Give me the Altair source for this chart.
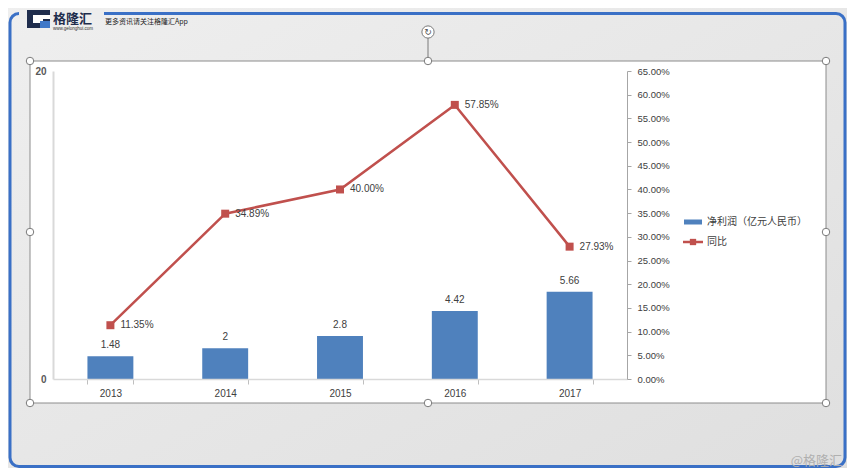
import altair as alt
import pandas as pd

# ---------------- data ----------------
years = ["2013", "2014", "2015", "2016", "2017"]
profit = [1.48, 2, 2.8, 4.42, 5.66]            # 净利润（亿元人民币）
yoy = [0.1135, 0.3489, 0.40, 0.5785, 0.2793]    # 同比
series_names = ["净利润（亿元人民币）", "同比"]
left_ticks = [0, 20]
right_ticks = [0.0, 0.05, 0.10, 0.15, 0.20, 0.25, 0.30, 0.35, 0.40, 0.45, 0.50, 0.55, 0.60, 0.65]

FONT = "Liberation Sans"
CJK = "Noto Sans CJK SC"
BLUE = "#4f81bd"
RED = "#c0504d"
TXT = "#404040"

df = pd.DataFrame({"year": years, "profit": profit, "yoy": yoy})
one = pd.DataFrame({"k": [0]})

# ---------------- axes / scales ----------------
x_axis = alt.Axis(title=None, labelAngle=0, domainColor="#d9d9d9", domainWidth=1.5,
                  tickBand="extent", tickSize=5, tickColor="#bfbfbf", labelColor=TXT,
                  labelFont=FONT, labelFontSize=10, labelPadding=4, grid=False, zindex=1)
x_enc = alt.X("year:N", sort=years, axis=x_axis,
              scale=alt.Scale(paddingInner=0.6, paddingOuter=0.3))

left_scale = alt.Scale(domain=[0, 20], nice=False)
left_axis = alt.Axis(title=None, orient="left", values=left_ticks, ticks=False,
                     domainColor="#d9d9d9", domainWidth=2, labelColor="#595959",
                     labelFont=FONT, labelFontSize=10, labelFontWeight="bold",
                     labelPadding=7, grid=False, zindex=1)

right_scale = alt.Scale(domain=[0, 0.65], nice=False)
right_axis = alt.Axis(title=None, orient="right", values=right_ticks, format=".2%",
                      domainColor="#a6a6a6", tickColor="#a6a6a6", tickSize=4,
                      labelPadding=6, labelColor=TXT, labelFont=FONT, labelFontSize=9.5,
                      grid=False, zindex=1)

# ---------------- helpers for decoration ----------------
def rect(x, x2, y, y2, **kw):
    return alt.Chart(one).mark_rect(**kw).encode(
        x=alt.value(x), x2=alt.value(x2), y=alt.value(y), y2=alt.value(y2))

def rule(x, x2, y, y2, **kw):
    return alt.Chart(one).mark_rule(**kw).encode(
        x=alt.value(x), x2=alt.value(x2), y=alt.value(y), y2=alt.value(y2))

def handle(x, y, size=56):
    return alt.Chart(one).mark_point(shape="circle", filled=True, fill="white",
                                     stroke="#7a7a7a", strokeWidth=1, size=size,
                                     opacity=1).encode(x=alt.value(x), y=alt.value(y))

def label(txt, x, y, **kw):
    return alt.Chart(one).mark_text(text=txt, **kw).encode(x=alt.value(x), y=alt.value(y))

bg = rect(-60, 800, -70, 400, fill={
    "gradient": "linear", "x1": 0, "y1": 0, "x2": 1, "y2": 1,
    "stops": [{"offset": 0, "color": "#efefef"}, {"offset": 1, "color": "#dfdfdf"}]})

frame = rect(-43, 792, -57.5, 395.5, fill=None, filled=False, stroke="#3a70c6",
             strokeWidth=3, cornerRadius=9)
gap = rect(-34, 51, -62, -52, fill="#ededed")

area = rect(-23, 773, -10, 332, fill="white", stroke="#8c8c8c", strokeWidth=1)
rot_line = rule(375, 375, -33, -10, color="#7a7a7a", strokeWidth=1)
rot = handle(375, -39, size=150)
rot_icon = label("↻", 375, -39, font="DejaVu Sans", fontSize=9, color="#555",
                 baseline="middle", align="center")
handles = [handle(x, y) for x, y in [(-23, -10), (375, -10), (773, -10), (-23, 161),
                                     (773, 161), (-23, 332), (375, 332), (773, 332)]]

# logo
logo = [
    rect(-26, -3, -61, -43, fill="#1f2d4d"),
    rect(-20, -3, -56, -52, fill="white"),
    rect(-20, -10, -52, -48, fill="white"),
    rect(-13, -3, -50, -43, fill="#3f78c8"),
    label("格隆汇", 0, -52, font=CJK, fontSize=13, fontWeight="bold", color="#1f2d4d",
          align="left", baseline="middle"),
    label("www.gelonghui.com", 0, -42.5, font=FONT, fontSize=4.5, color="#333",
          align="left", baseline="middle"),
    label("更多资讯请关注格隆汇App", 52, -49, font=CJK, fontSize=7, color="#222",
          align="left", baseline="middle"),
]
watermark = label("@格隆汇", 789, 390, font=CJK, fontSize=13, color="#b0b0b0",
                  align="right", baseline="middle")

# ---------------- data layers ----------------
bars = alt.Chart(df).mark_bar(color=BLUE).encode(
    x=x_enc, y=alt.Y("profit:Q", scale=left_scale, axis=left_axis))
bar_text = alt.Chart(df).mark_text(dy=-11, baseline="middle", font=FONT, fontSize=10,
                                   color=TXT).encode(
    x=x_enc, y=alt.Y("profit:Q", scale=left_scale, axis=left_axis),
    text=alt.Text("profit:Q", format=".3~g"))
bar_layer = alt.layer(bars, bar_text)

line = alt.Chart(df).mark_line(color=RED, strokeWidth=2.5).encode(
    x=x_enc, y=alt.Y("yoy:Q", scale=right_scale, axis=right_axis))
pts = alt.Chart(df).mark_square(color=RED, size=64, opacity=1).encode(
    x=x_enc, y=alt.Y("yoy:Q", scale=right_scale, axis=right_axis))
line_text = alt.Chart(df).mark_text(align="left", dx=10, baseline="middle", font=FONT,
                                    fontSize=10, color=TXT).encode(
    x=x_enc, y=alt.Y("yoy:Q", scale=right_scale, axis=right_axis),
    text=alt.Text("yoy:Q", format=".2%"))
line_layer = alt.layer(line, pts, line_text)

# ---------------- legend ----------------
leg_df0 = pd.DataFrame({"s": [series_names[0]]})
leg_df1 = pd.DataFrame({"s": [series_names[1]]})
legend = [
    rect(631, 649, 148.5, 153.5, fill=BLUE),
    alt.Chart(leg_df0).mark_text(align="left", baseline="middle", font=CJK, fontSize=10,
                                 color=TXT).encode(x=alt.value(654), y=alt.value(151),
                                                   text="s:N"),
    rule(630, 650, 171, 171, color=RED, strokeWidth=2.5),
    alt.Chart(one).mark_square(color=RED, size=40, opacity=1).encode(
        x=alt.value(640), y=alt.value(171)),
    alt.Chart(leg_df1).mark_text(align="left", baseline="middle", font=CJK, fontSize=10,
                                 color=TXT).encode(x=alt.value(654), y=alt.value(171),
                                                   text="s:N"),
]

chart = alt.layer(
    bg, frame, gap, area, rot_line, rot, rot_icon, *handles,
    bar_layer, line_layer, *legend, *logo, watermark
).resolve_scale(y="independent").properties(
    width=574, height=308,
    padding={"left": 45, "top": 63, "right": 220, "bottom": 89},
    autosize=alt.AutoSizeParams(type="none"),
).configure_view(stroke=None).configure(background="#e8e8e8")

chart.save("out.html", embed_options={"renderer": "svg", "actions": False})
